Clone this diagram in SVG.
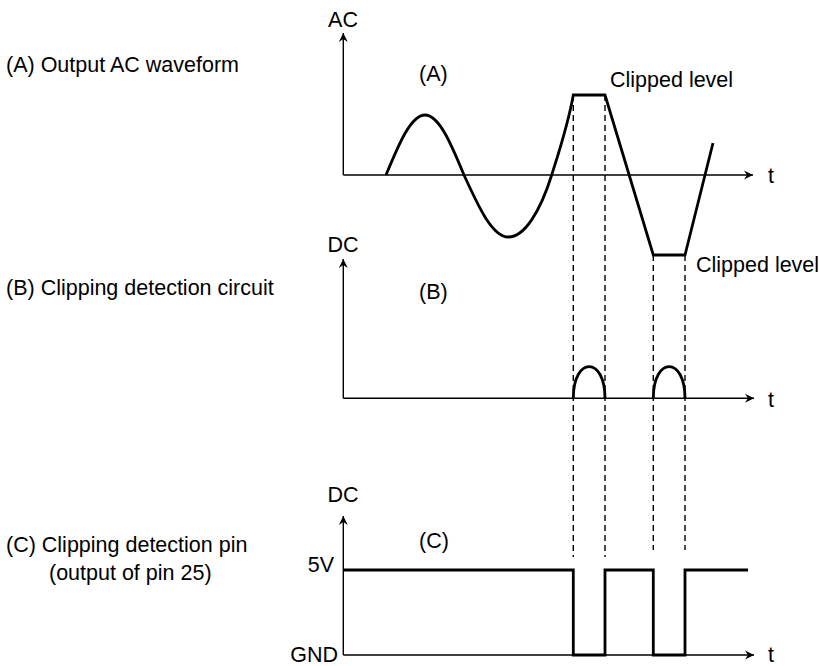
<svg xmlns="http://www.w3.org/2000/svg" width="819" height="666" viewBox="0 0 819 666">
<defs>
<marker id="arr" markerUnits="userSpaceOnUse" markerWidth="12" markerHeight="12" refX="0" refY="0" viewBox="-10 -6 12 12" orient="auto">
<path d="M0,0 L-9,-4.5 L-6,0 L-9,4.5 Z" fill="#000"/>
</marker>
</defs>
<style>
text{font-family:"Liberation Sans",Arial,sans-serif;font-size:21.5px;fill:#000}
.axis{stroke:#000;stroke-width:1.4;fill:none}
.sig{stroke:#000;stroke-width:2.8;fill:none;stroke-linejoin:miter}
.dash{stroke:#000;stroke-width:1.4;fill:none;stroke-dasharray:6,4}
</style>
<rect width="819" height="666" fill="#fff"/>
<g id="labels">
<text x="6" y="72">(A) Output AC waveform</text>
<text x="6" y="295">(B) Clipping detection circuit</text>
<text x="6" y="552">(C) Clipping detection pin</text>
<text x="49" y="580">(output of pin 25)</text>
</g>
<g id="connectors">
<line class="dash" x1="573.3" y1="95" x2="573.3" y2="557"/>
<line class="dash" x1="605" y1="95" x2="605" y2="557"/>
<line class="dash" x1="653.3" y1="255" x2="653.3" y2="550"/>
<line class="dash" x1="685" y1="255" x2="685" y2="550"/>
</g>
<g id="graphA">
<path class="axis" d="M343.3,175 V33" marker-end="url(#arr)"/>
<path class="axis" d="M343.3,175 H753" marker-end="url(#arr)"/>
<text x="343" y="27" text-anchor="middle">AC</text>
<text x="768" y="183">t</text>
<text x="419" y="81">(A)</text>
<text x="610" y="87">Clipped level</text>
<text x="696" y="272">Clipped level</text>
<path class="sig" d="M386,175 C398.7,144.3 410.9,115 425,115 C439.1,115 451.3,144.3 464,175 C478.5,206.8 492.3,237 508.4,237 C524.4,237 540,212 551.7,175 C558,155 568,125 573.3,95 L605,95 L653.3,255 L685,255 L713,143"/>
</g>
<g id="graphB">
<path class="axis" d="M343.3,398.3 V259" marker-end="url(#arr)"/>
<path class="axis" d="M343.3,398.3 H754" marker-end="url(#arr)"/>
<text x="343" y="252" text-anchor="middle">DC</text>
<text x="768" y="407">t</text>
<text x="419" y="299">(B)</text>
<path class="sig" d="M573.3,398.3 C573.3,356 605,356 605,398.3"/>
<path class="sig" d="M653.3,398.3 C653.3,356 685,356 685,398.3"/>
</g>
<g id="graphC">
<path class="axis" d="M343.3,655 V516" marker-end="url(#arr)"/>
<path class="axis" d="M343.3,655 H754" marker-end="url(#arr)"/>
<text x="343" y="502" text-anchor="middle">DC</text>
<text x="768" y="662">t</text>
<text x="419" y="548">(C)</text>
<text x="334" y="572" text-anchor="end">5V</text>
<text x="338" y="662" text-anchor="end">GND</text>
<path class="sig" d="M343.3,570 H573.3 V655 H605 V570 H653.3 V655 H685 V570 H748"/>
</g>
</svg>
